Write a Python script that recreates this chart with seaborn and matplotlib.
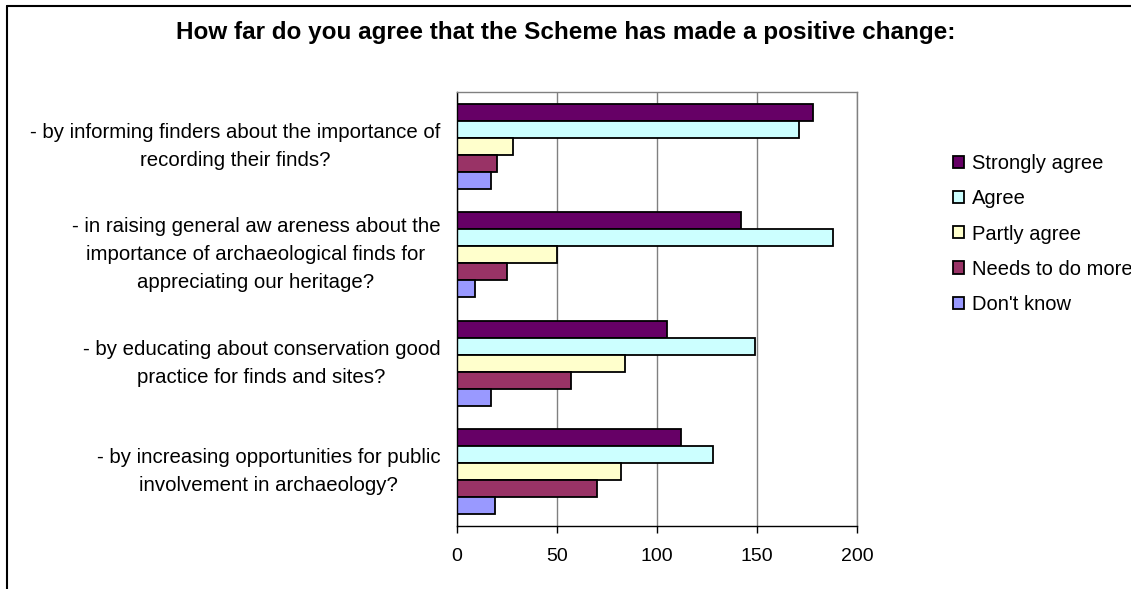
import numpy as np
import pandas as pd
import matplotlib
matplotlib.use('Agg')
import matplotlib.pyplot as plt
import seaborn as sns

# survey questions (y categories), top to bottom
questions = [
    '- by informing finders about the importance of\nrecording their finds?',
    '- in raising general aw areness about the\nimportance of archaeological finds for\nappreciating our heritage?',
    '- by educating about conservation good\npractice for finds and sites?',
    '- by increasing opportunities for public\ninvolvement in archaeology?',
]
responses = ['Strongly agree', 'Agree', 'Partly agree', 'Needs to do more', "Don't know"]

# counts per response, one value per question
strongly_agree = [178, 142, 105, 112]
agree = [171, 188, 149, 128]
partly_agree = [28, 50, 84, 82]
needs_more = [20, 25, 57, 70]
dont_know = [17, 9, 17, 19]

colors = ['#660066', '#CCFFFF', '#FFFFCC', '#993366', '#9999FF']
x_ticks = [0, 50, 100, 150, 200]
title = 'How far do you agree that the Scheme has made a positive change:'

series = [strongly_agree, agree, partly_agree, needs_more, dont_know]
rows = []
for resp, vals in zip(responses, series):
    for q, v in zip(questions, vals):
        rows.append([q, resp, v])
df = pd.DataFrame(rows, columns=['question', 'response', 'count'])

sns.set_style('white')
plt.rcParams['font.family'] = ['Liberation Sans', 'DejaVu Sans']
plt.rcParams['text.color'] = 'black'
plt.rcParams['xtick.color'] = 'black'
plt.rcParams['ytick.color'] = 'black'

fig = plt.figure(figsize=(11.31, 5.89), dpi=100)
ax = fig.add_axes([457 / 1131, 1 - 526 / 589, 400 / 1131, 434 / 589])

sns.barplot(data=df, y='question', x='count', hue='response', orient='h',
            order=questions, hue_order=responses, palette=colors, saturation=1,
            edgecolor='black', linewidth=1.3, width=0.78, ax=ax, legend=True)

ax.set_xlim(0, 200)
ax.set_xticks(x_ticks)
ax.set_xlabel('')
ax.set_ylabel('')
ax.xaxis.grid(True, color='#808080', linewidth=1)
ax.set_axisbelow(True)

# category labels centred per group, ticks between groups
ax.tick_params(axis='y', which='major', length=0, pad=12, labelsize=14.7, labelcolor='black')
ax.set_yticks(np.arange(-0.5, len(questions)), minor=True)
ax.tick_params(axis='y', which='minor', length=6, width=1, color='black', direction='out')
for t in ax.get_yticklabels():
    t.set_multialignment('center')
    t.set_linespacing(1.6)
    t.set_verticalalignment('center')
ax.tick_params(axis='x', length=5, width=1, color='black', direction='out', pad=11,
               labelsize=14, labelcolor='black')
ax.tick_params(axis='x', bottom=True)

for side in ['left', 'bottom']:
    ax.spines[side].set_color('black')
    ax.spines[side].set_linewidth(1)
for side in ['top', 'right']:
    ax.spines[side].set_color('#808080')
    ax.spines[side].set_linewidth(1)

handles, labels = ax.get_legend_handles_labels()
ax.get_legend().remove()
fig.legend(handles, labels, loc='center left', bbox_to_anchor=(953 / 1131, 1 - 234 / 589),
           frameon=False, fontsize=14.5, handlelength=0.55, handleheight=0.55,
           handletextpad=0.4, labelspacing=0.8, borderpad=0, borderaxespad=0)

fig.text(566 / 1131, 1 - 33 / 589, title, ha='center', va='center',
         fontsize=17.5, fontweight='bold', color='black')

# chart frame (only top and left edges visible)
fig.add_artist(plt.Line2D([7 / 1131, 7 / 1131], [0, 1 - 5.5 / 589],
                          transform=fig.transFigure, color='black', lw=1.5))
fig.add_artist(plt.Line2D([7 / 1131, 1], [1 - 5.5 / 589, 1 - 5.5 / 589],
                          transform=fig.transFigure, color='black', lw=1.5))

fig.savefig('out.png', dpi=100)
